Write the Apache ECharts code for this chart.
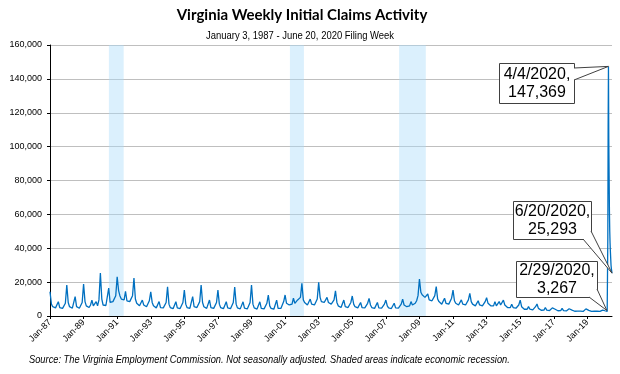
<!DOCTYPE html>
<html><head><meta charset="utf-8">
<script src="https://cdn.jsdelivr.net/npm/echarts@6/dist/echarts.min.js"></script>
<style>html,body{margin:0;padding:0;background:#fff}#c{width:620px;height:374px}</style>
</head><body><div id="c"></div>
<script>
// ---------------- data ----------------
const firstYear = 1987;
const tickYears = [1987,1989,1991,1993,1995,1997,1999,2001,2003,2005,2007,2009,2011,2013,2015,2017,2019];
const blockStartYears = [1987, 2000, 2010];
// monthly readings (Jan..Dec) of weekly initial claims
const claims1987to1999 = [
  14300, 7000, 5500, 6500, 4800, 4500, 8400, 5000, 4300, 4500, 5200, 7500,
  18300, 8000, 5500, 4800, 4600, 4800, 11400, 5500, 4400, 4600, 5500, 8000,
  18900, 8500, 6000, 5200, 5000, 6500, 9400, 6000, 5200, 8500, 6000, 9500,
  25300, 10000, 6500, 6000, 6200, 7000, 16500, 8000, 7000, 8500, 9500, 12000,
  23200, 15000, 12000, 10000, 9000, 9500, 14500, 9000, 8000, 8500, 8500, 12000,
  22400, 10000, 7500, 6500, 6000, 6500, 9400, 6500, 5500, 5500, 6500, 9000,
  14300, 8000, 6000, 5000, 4800, 5000, 8500, 5000, 4500, 4800, 5500, 8000,
  17300, 7000, 5000, 4500, 4300, 4500, 8400, 4800, 4200, 4400, 5500, 8000,
  15300, 7000, 5000, 4500, 4500, 5000, 11400, 5500, 4500, 5000, 6000, 8500,
  18300, 8000, 5500, 4800, 4500, 4800, 9400, 5000, 4300, 4500, 5500, 8000,
  15300, 7000, 5000, 4500, 4300, 4500, 8400, 4800, 4200, 4300, 5200, 8000,
  17100, 7000, 4800, 4300, 4200, 4500, 8400, 4600, 4000, 4200, 5200, 8000,
  18300, 7000, 4800, 4300, 4100, 4300, 8400, 4500, 4000, 4200, 5000, 7500
];
const claims2000to2009 = [
  12400, 6000, 4500, 4200, 4000, 4300, 9400, 4500, 4000, 4500, 5500, 8500,
  12400, 7500, 6500, 6500, 6500, 7000, 10500, 7500, 7500, 9500, 8500, 11000,
  19300, 9500, 8000, 7000, 6500, 7000, 10000, 7000, 6500, 6500, 7500, 10000,
  19900, 11000, 8500, 9000, 8000, 8500, 11000, 8000, 7000, 7000, 7500, 9500,
  14800, 8000, 6000, 5500, 5000, 5500, 9400, 5500, 5000, 5000, 6000, 8000,
  11800, 7000, 5500, 5000, 4800, 5000, 8000, 5000, 4600, 4800, 5500, 7500,
  10400, 6500, 5000, 4600, 4500, 5000, 8000, 4800, 4500, 4600, 5200, 7000,
  9400, 6000, 4800, 4500, 4400, 4800, 7500, 4800, 4500, 4700, 5500, 7000,
  10000, 6500, 5500, 5500, 5500, 6000, 8500, 6500, 6500, 7500, 9000, 12000,
  21800, 14000, 12500, 11500, 11000, 11000, 13000, 9500, 9000, 9000, 9500, 12000
];
const claims2010to2019 = [
  17300, 10000, 8500, 7500, 7000, 7500, 10500, 7500, 7000, 7000, 8000, 10500,
  15300, 9000, 7500, 6800, 6500, 7000, 9500, 7000, 6500, 6500, 7500, 9500,
  13400, 8500, 7000, 6300, 6000, 6500, 9000, 6500, 6000, 6000, 7000, 8500,
  10800, 7500, 6500, 6000, 5800, 6000, 8500, 6000, 5500, 8500, 6500, 7500,
  9400, 6500, 5500, 5000, 4800, 5000, 7000, 5000, 4600, 4600, 5200, 6500,
  9400, 5500, 4500, 4000, 3800, 4000, 5500, 4000, 3600, 3600, 4200, 5500,
  7100, 4500, 3700, 3400, 3300, 3500, 5000, 3500, 3200, 3200, 3700, 4800,
  5900, 4000, 3300, 3100, 3000, 3200, 4500, 3200, 2900, 3000, 3400, 4300,
  4500, 3500, 3000, 2800, 2700, 2900, 4000, 2900, 2700, 2700, 3200, 4200,
  5100, 3300, 2800, 2700, 2600, 2800, 3800, 2800, 2600, 2700, 3000, 3500
];
const weeks2020 = ['2020-01-04','2020-01-18','2020-02-01','2020-02-15','2020-02-29','2020-03-07','2020-03-14',
  '2020-03-21','2020-03-28','2020-04-04','2020-04-11','2020-04-18','2020-04-25','2020-05-02','2020-05-09',
  '2020-05-16','2020-05-23','2020-05-30','2020-06-06','2020-06-13','2020-06-20'];
const claims2020 = [4200, 3100, 2900, 2800, 3267, 2700, 2706,
  46277, 112497, 147369, 104000, 83000, 62000, 50000, 43000,
  38000, 34000, 30000, 28000, 27000, 25293];
const recessions = [['1990-07-05','1991-05-22'], ['2001-04-16','2002-02-14'], ['2007-10-16','2009-05-19']];
const calloutDates = ['2020-04-04', '2020-06-20', '2020-02-29'];
const calloutLabels = ['4/4/2020,\n147,369', '6/20/2020,\n25,293', '2/29/2020,\n3,267'];

// ---------------- helpers ----------------
function toX(y, m, d) {
  const s = Date.UTC(y, 0, 1), e = Date.UTC(y + 1, 0, 1);
  return (y - firstYear) + (Date.UTC(y, m, d) - s) / (e - s);
}
function dateX(str) { const p = str.split('-').map(Number); return toX(p[0], p[1] - 1, p[2]); }

const lineData = [];
[claims1987to1999, claims2000to2009, claims2010to2019].forEach((arr, k) => {
  const y0 = blockStartYears[k];
  arr.forEach((v, i) => lineData.push([toX(y0 + Math.floor(i / 12), i % 12, 1), v]));
});
weeks2020.forEach((s, i) => lineData.push([dateX(s), claims2020[i]]));
const xMax = lineData[lineData.length - 1][0];
const tickX = tickYears.map(y => y - firstYear);

const chart = echarts.init(document.getElementById('c'), null, {renderer: 'canvas'});
const sans = "'Liberation Sans', Arial, sans-serif";

chart.setOption({
  animation: false,
  grid: {left: 50, right: 8, top: 45, bottom: 58},
  xAxis: {
    type: 'value', min: 0, max: xMax,
    splitLine: {show: false},
    axisLine: {lineStyle: {color: '#000', width: 1}},
    axisTick: {show: true, length: 3, customValues: tickX, lineStyle: {color: '#000'}},
    axisLabel: {customValues: tickX, rotate: 45, fontSize: 9, fontFamily: sans, color: '#000', margin: 5,
      formatter: v => 'Jan-' + String(firstYear + Math.round(v)).slice(2)}
  },
  yAxis: {
    type: 'value', min: 0, max: 160000, interval: 20000,
    axisLine: {show: true, lineStyle: {color: '#000', width: 1}},
    axisTick: {show: true, length: 3, lineStyle: {color: '#000'}},
    splitLine: {lineStyle: {color: '#BFBFBF', width: 1}},
    axisLabel: {fontSize: 9, fontFamily: sans, color: '#000', margin: 8,
      formatter: v => v.toLocaleString('en-US')}
  },
  series: [{
    type: 'line', data: lineData, symbol: 'none', smooth: false,
    lineStyle: {color: '#0070C0', width: 1.3},
    markArea: {silent: true, itemStyle: {color: 'rgba(170,220,250,0.42)'},
      data: recessions.map(r => [{xAxis: dateX(r[0])}, {xAxis: dateX(r[1])}])}
  }]
});

const layouts = [
  {rect: [499, 63, 75, 40], base: [[574, 68], [574, 80]]},
  {rect: [513, 201, 78, 38], base: [[583, 239], [591, 231]]},
  {rect: [516, 261, 81, 36], base: [[589, 297], [597, 289]]}
];
const graphics = [
  {type: 'text', x: 302, y: 15, style: {text: 'Virginia Weekly Initial Claims Activity', font: "bold 15px Lato, sans-serif", fill: '#000', textAlign: 'center', textVerticalAlign: 'middle'}},
  {type: 'text', x: 300, y: 36, scaleX: 0.86, style: {text: 'January 3, 1987 - June 20, 2020 Filing Week', font: "11px " + sans, fill: '#000', textAlign: 'center', textVerticalAlign: 'middle'}},
  {type: 'text', x: 29, y: 360, scaleX: 0.845, style: {text: 'Source: The Virginia Employment Commission. Not seasonally adjusted. Shaded areas indicate economic recession.', font: "italic 11px " + sans, fill: '#000', textAlign: 'left', textVerticalAlign: 'middle'}}
];
calloutDates.forEach((d, i) => {
  const idx = weeks2020.indexOf(d);
  const p = chart.convertToPixel({seriesIndex: 0}, [dateX(d), claims2020[idx]]);
  const L = layouts[i], r = L.rect;
  const pts = [L.base[0], p, L.base[1]];
  graphics.push({type: 'rect', z: 100, shape: {x: r[0] + 0.5, y: r[1] + 0.5, width: r[2], height: r[3]}, style: {fill: '#fff', stroke: '#404040', lineWidth: 1}});
  graphics.push({type: 'polygon', z: 101, shape: {points: pts}, style: {fill: '#fff'}});
  graphics.push({type: 'polyline', z: 102, shape: {points: pts}, style: {stroke: '#404040', fill: null, lineWidth: 1}});
  graphics.push({type: 'text', z: 103, x: r[0] + r[2] / 2 + 0.5, y: r[1] + r[3] / 2 + 1, style: {text: calloutLabels[i], font: "16px " + sans, fill: '#000', textAlign: 'center', textVerticalAlign: 'middle', lineHeight: 18}});
});
chart.setOption({graphic: graphics});
</script>
</body></html>
